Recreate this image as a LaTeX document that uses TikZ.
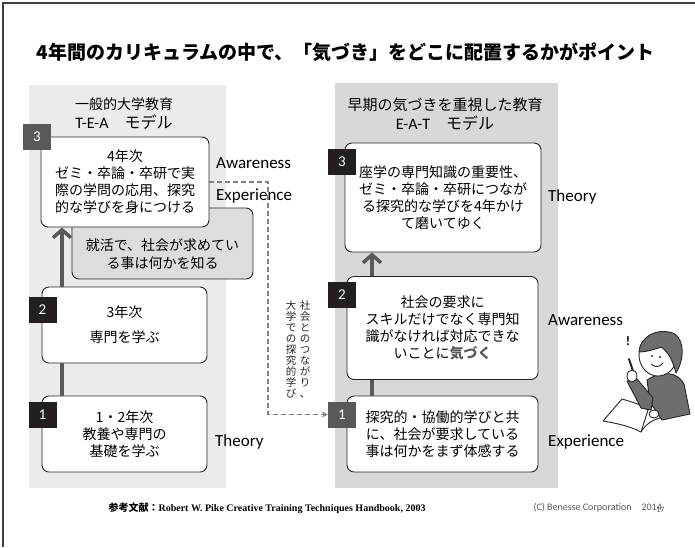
\documentclass[tikz,border=0pt]{standalone}
\usepackage{fontspec}
\setmainfont{Liberation Serif}
\newfontfamily\jp{Noto Sans CJK JP}
\newfontfamily\lat{Carlito}
\usetikzlibrary{arrows.meta,positioning}

\definecolor{panelA}{HTML}{EBEBEC}
\definecolor{panelB}{HTML}{D8D8DA}
\definecolor{jobgray}{HTML}{DDDDDD}
\definecolor{inkgray}{HTML}{595959}
\definecolor{tagdark}{HTML}{231F20}
\definecolor{linegray}{HTML}{808080}
\definecolor{personfill}{HTML}{6E6E6E}

\tikzset{
  stagebox/.style={draw=black!85,line width=0.9pt,fill=white,rounded corners=7pt,
    inner sep=0pt,align=center,font=\jp\fontsize{14}{17}\selectfont},
  tagbox/.style={fill=#1,text=white,minimum width=28pt,minimum height=26pt,
    inner sep=0pt,font=\lat\fontsize{15}{15}\selectfont},
  modelname/.style={align=center,font=\jp\fontsize{14}{19}\selectfont},
  aelabel/.style={anchor=west,inner sep=0pt,font=\lat\fontsize{17}{17}\selectfont},
  spine/.style={draw=inkgray,line width=3.5pt},
  dashlink/.style={draw=linegray,line width=1.2pt,dash pattern=on 5pt off 3pt},
  vtext/.style={align=center,anchor=north,inner sep=0pt,text=black!85,
    font=\jp\fontsize{10.5}{11}\selectfont},
  outline/.style={draw=black!85,line width=0.9pt,line join=round},
}

\begin{document}
\begin{tikzpicture}[x=1pt,y=-1pt]
\useasboundingbox (0,0) rectangle (695,547);
% page frame
\draw[black!75,line width=1.5pt] (695,3) -- (3,3) -- (3,547);

\node[anchor=west,font=\jp\bfseries\fontsize{19}{19}\selectfont] (title) at (33,52)
  {4年間のカリキュラムの中で、「気づき」をどこに配置するかがポイント};

% the two columns
\fill[panelA] (29,85) rectangle (226,488);
\fill[panelB] (335,83) rectangle (558,488);

\node[modelname] (hdrL) at (124,114) {一般的大学教育\\{\fontsize{16}{16}\selectfont{\lat T-E-A}\quad モデル}};
\node[modelname] (hdrR) at (445,114) {{\fontsize{15}{15}\selectfont 早期の気づきを重視した教育}\\{\fontsize{16}{16}\selectfont{\lat E-A-T}\quad モデル}};

% left column: T-E-A
\node[stagebox,fill=jobgray,minimum width=181pt,minimum height=71pt] (job) at (162.5,243.5) {};
\node[align=center,font=\jp\fontsize{14}{18}\selectfont] (jobtxt) at (162.5,254)
  {就活で、社会が求めてい\\る事は何かを知る};
\node[stagebox,minimum width=168pt,minimum height=90pt] (l3) at (125,182)
  {4年次\\ゼミ・卒論・卒研で実\\際の学問の応用、探究\\的な学びを身につける};
\node[stagebox,minimum width=165pt,minimum height=76pt] (l2) at (124.5,325)
  {3年次\\[8pt]専門を学ぶ};
\node[stagebox,minimum width=165pt,minimum height=76pt] (l1) at (124.5,434)
  {1・2年次\\教養や専門の\\基礎を学ぶ};

\node[tagbox=inkgray] (lt3) at (37,137) {3};
\node[tagbox=tagdark] (lt2) at (42.5,310) {2};
\node[tagbox=tagdark] (lt1) at (42.5,414.5) {1};

\coordinate (lspine) at (62,0);
\draw[spine] (lspine |- l1.north) -- (lspine |- l2.south);
\draw[spine,-{Straight Barb[length=8pt,width=18pt]}] (lspine |- l2.north) -- (lspine |- l3.south);

\node[aelabel] (lAw) at (216,163) {Awareness};
\node[aelabel] (lEx) at (216,196) {Experience};
\node[aelabel] (lTh) at (215,442) {Theory};

% right column: E-A-T
\node[stagebox,minimum width=196pt,minimum height=109pt] (r3) at (443,197.5)
  {座学の専門知識の重要性、\\ゼミ・卒論・卒研につなが\\る探究的な学びを4年かけ\\て磨いてゆく};
\node[stagebox,minimum width=191pt,minimum height=103pt] (r2) at (442.5,328)
  {社会の要求に\\スキルだけでなく専門知\\識がなければ対応できな\\いことに{\bfseries\color{inkgray}気づく}};
\node[stagebox,minimum width=191pt,minimum height=76pt] (r1) at (442.5,434)
  {探究的・協働的学びと共\\に、社会が要求している\\事は何かをまず体感する};

\node[tagbox=tagdark] (rt3) at (342,161.5) {3};
\node[tagbox=tagdark] (rt2) at (342,295) {2};
\node[tagbox=inkgray] (rt1) at (342,414.5) {1};

\coordinate (rspine) at (372,0);
\draw[spine] (rspine |- r1.north) -- (rspine |- r2.south);
\draw[spine,-{Straight Barb[length=8pt,width=18pt]}] (rspine |- r2.north) -- (rspine |- r3.south);

\node[aelabel] (rTh) at (548,197) {Theory};
\node[aelabel] (rAw) at (548,320) {Awareness};
\node[aelabel] (rEx) at (548,442) {Experience};

% link between the models
\coordinate (dashx) at (268,0);
\draw[dashlink,-{Stealth[length=6pt,width=6pt]}] (l3.east) -| (dashx |- rt1.west) -- (rt1.west);
\node[vtext] (vt1) at (305,300) {社\\会\\と\\の\\つ\\な\\が\\り\\、};
\node[vtext] (vt2) at (291,300) {大\\学\\で\\の\\探\\究\\的\\学\\び};

% student with a book
\draw[outline,fill=white] (603,421) -- (622,399) .. controls (632,402) and (640,404) .. (648,410)
  .. controls (655,404) and (662,401) .. (668,400) -- (660,418)
  .. controls (652,420) and (645,425) .. (641,432)
  .. controls (630,426) and (615,423) .. (603,421) -- cycle;
\draw[outline] (648,410) -- (641,432);
\draw[outline,fill=personfill] (647,380) .. controls (662,370) and (678,372) .. (684,384)
  -- (690,414) -- (662,420) -- (650,402) -- cycle;
\draw[outline,fill=personfill] (627,381) -- (637,379) -- (653,398) -- (651,410) -- (641,408) -- cycle;
\draw[outline,fill=white] (654,414) ellipse (5pt and 4pt);
\draw[black!85,line width=2pt,line cap=round] (629,359) -- (633,371);
\draw[outline,fill=white] (632,376) ellipse (5pt and 6pt);
\draw[outline,fill=white] (658,355) ellipse (19pt and 21pt);
\draw[outline,fill=personfill] (639,352) .. controls (640,335) and (660,327) .. (675,334)
  .. controls (685,342) and (684,360) .. (676,373)
  .. controls (673,362) and (669,352) .. (661,347)
  .. controls (653,350) and (645,352) .. (639,352) -- cycle;
\fill[black!85] (652,356) circle (1.2pt) (660,357) circle (1.2pt);
\draw[outline] (651,364) .. controls (655,368) and (660,367) .. (663,363);
\node[font=\lat\bfseries\fontsize{13}{13}\selectfont] (bang) at (628,341) {!};

% footer
\node[anchor=west,font=\bfseries\fontsize{10}{10}\selectfont] (ref) at (105,508)
  {{\jp 参考文献：}Robert W. Pike Creative Training Techniques Handbook, 2003};
\node[anchor=west,text=inkgray,font=\lat\fontsize{10}{10}\selectfont] (copy) at (530,508)
  {(C) Benesse Corporation\quad 2014};
\node[text=inkgray,font=\lat\fontsize{8}{8}\selectfont] (pageno) at ([xshift=-5pt,yshift=-2pt]copy.east) {17};
\end{tikzpicture}
\end{document}
